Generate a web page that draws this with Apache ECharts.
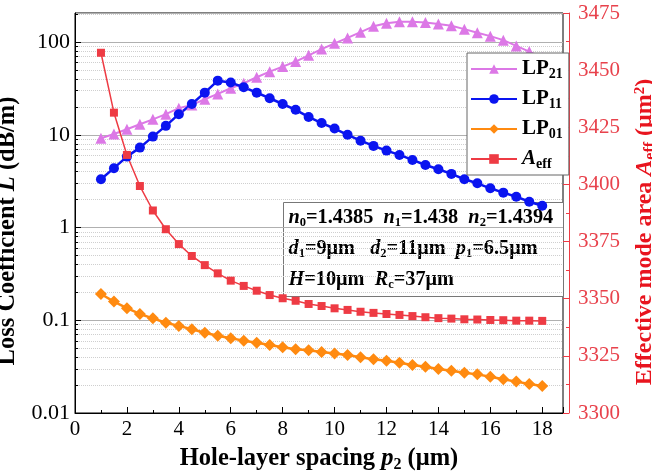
<!DOCTYPE html>
<html>
<head>
<meta charset="utf-8">
<script src="https://cdn.jsdelivr.net/npm/echarts@6/dist/echarts.min.js"></script>
<style>
  html, body { margin: 0; padding: 0; background: #fff; }
  #chart { width: 652px; height: 476px; }
</style>
</head>
<body>
<div id="chart"></div>
<script>
// Hole-layer spacing p2 (µm)
const spacing = [1, 1.5, 2, 2.5, 3, 3.5, 4, 4.5, 5, 5.5, 6, 6.5, 7, 7.5, 8, 8.5, 9, 9.5,
  10, 10.5, 11, 11.5, 12, 12.5, 13, 13.5, 14, 14.5, 15, 15.5, 16, 16.5, 17, 17.5, 18];

// Loss coefficient (dB/m) per mode
const lossLP21 = [9.2, 10.2, 11.5, 13.0, 14.7, 16.7, 19.4, 21.0, 24.2, 27.6, 31.8, 36.0,
  41.8, 48.0, 54.4, 61.7, 72, 84, 97, 111, 128, 148, 160, 166, 166, 163, 157, 150,
  138, 126, 116, 105, 91, 79, 68];
const lossLP11 = [3.32, 4.37, 5.82, 7.28, 9.57, 12.5, 16.7, 21.5, 28.5, 38.4, 36.6, 32.6,
  28.5, 24.8, 21.5, 18.6, 15.6, 13.4, 11.7, 10.0, 8.65, 7.6, 6.76, 6.07, 5.36, 4.73,
  4.25, 3.79, 3.32, 3.0, 2.65, 2.38, 2.15, 1.90, 1.72];
const lossLP01 = [0.192, 0.159, 0.135, 0.117, 0.105, 0.094, 0.087, 0.080, 0.0734, 0.0682,
  0.064, 0.0603, 0.0573, 0.0542, 0.0512, 0.0486, 0.0475, 0.0455, 0.0438, 0.0423, 0.0399,
  0.0379, 0.0366, 0.0349, 0.033, 0.0316, 0.0298, 0.0286, 0.0272, 0.0261, 0.0246, 0.0231,
  0.0218, 0.0206, 0.0196];

// Effective mode area of the fundamental mode (µm²)
const areaEff = [3457.6, 3431.4, 3412.9, 3399.3, 3388.6, 3380.4, 3373.9, 3368.7, 3364.7,
  3361.1, 3357.9, 3355.6, 3353.5, 3351.6, 3350.2, 3349.1, 3347.7, 3346.8, 3345.8, 3345.1,
  3344.3, 3343.8, 3343.3, 3342.9, 3342.4, 3341.9, 3341.5, 3341.3, 3341.0, 3340.9, 3340.7,
  3340.6, 3340.4, 3340.4, 3340.3];

const seriesNames = ['LP21', 'LP11', 'LP01', 'Aeff'];

// Minor log positions (2..9 per decade) for dotted grid lines and small ticks
const minorLog = [];
[0.01, 0.1, 1, 10, 100].forEach(function (d) {
  for (let k = 2; k <= 9; k++) {
    const v = +(d * k).toPrecision(3);
    if (v < 206) minorLog.push(v);
  }
});

const serif = '"Liberation Serif", "Times New Roman", serif';
const pairs = arr => spacing.map((x, i) => [x, arr[i]]);

const chart = echarts.init(document.getElementById('chart'), null, { renderer: 'canvas' });

const legendRich = {
  b: { fontFamily: serif, fontWeight: 'bold', fontSize: 21, color: '#000', lineHeight: 24 },
  s: { fontFamily: serif, fontWeight: 'bold', fontSize: 14, color: '#000', lineHeight: 24, padding: [10, 0, 0, 0] },
  i: { fontFamily: serif, fontWeight: 'bold', fontStyle: 'italic', fontSize: 21, color: '#000', lineHeight: 24 }
};

// Dotted minor grid lines plus short inward ticks on the log axis
const minorMarks = minorLog.map(v => ({ yAxis: v, lineStyle: { color: '#cfcfcf', type: 'dotted', width: 1 } }))
  .concat(minorLog.map(v => [
    { coord: [0, v], lineStyle: { color: '#000', type: 'solid', width: 1 } },
    { coord: [0.12, v] }
  ]));

const titleBlack = { fontFamily: serif, fontWeight: 'bold', fontSize: 24.5, color: '#000', lineHeight: 28 };
const titleRed = { fontFamily: serif, fontWeight: 'bold', fontSize: 24, color: '#e8141e', lineHeight: 28 };

const option = {
  backgroundColor: '#fff',
  animation: false,
  grid: {
    left: 75, top: 13, width: 488, height: 400,
    outerBoundsMode: 'none', containLabel: false,
    show: true, borderColor: '#000', borderWidth: 1, backgroundColor: '#fff'
  },
  legend: {
    data: seriesNames,
    orient: 'vertical',
    left: 467, top: 53,
    padding: [4, 6, 4, 3],
    itemWidth: 46, itemHeight: 12, itemGap: 6,
    backgroundColor: '#fff', borderColor: '#666', borderWidth: 1,
    formatter: function (name) {
      if (name === 'Aeff') return '{i|A}{s|eff}';
      return '{b|LP}{s|' + name.slice(2) + '}';
    },
    textStyle: { rich: legendRich }
  },
  xAxis: {
    type: 'value',
    min: 0, max: 18.8, interval: 2,
    name: '{b|Hole-layer spacing }{i|p}{s|2}{b| (μm)}',
    nameLocation: 'middle', nameGap: 21,
    nameTextStyle: {
      rich: {
        b: titleBlack,
        i: Object.assign({}, titleBlack, { fontStyle: 'italic' }),
        s: Object.assign({}, titleBlack, { fontSize: 16, padding: [12, 0, 0, 0] })
      }
    },
    axisLine: { onZero: false, lineStyle: { color: '#000', width: 1 } },
    axisTick: { inside: true, length: 6, lineStyle: { color: '#000' } },
    minorTick: { show: true, splitNumber: 2, length: 3, lineStyle: { color: '#000' } },
    axisLabel: { fontFamily: serif, fontSize: 21, color: '#000', margin: 6, showMaxLabel: false },
    splitLine: { show: false }
  },
  yAxis: [
    {
      type: 'log', logBase: 10,
      min: 0.01, max: 206,
      position: 'left',
      name: '{b|Loss Coefficient }{i|L}{b| (dB/m)}',
      nameLocation: 'middle', nameGap: 37, nameRotate: 90,
      nameTextStyle: {
        padding: [0, 36, 0, 0],
        rich: {
          b: titleBlack,
          i: Object.assign({}, titleBlack, { fontStyle: 'italic' })
        }
      },
      axisLine: { show: true, lineStyle: { color: '#000', width: 1 } },
      axisTick: { inside: true, length: 6, lineStyle: { color: '#000' } },
      axisLabel: { fontFamily: serif, fontSize: 22, color: '#000', margin: 5, showMaxLabel: false },
      splitLine: { show: true, lineStyle: { color: '#b0b0b0', width: 1 } }
    },
    {
      type: 'value',
      min: 3300, max: 3475, interval: 25,
      position: 'right', offset: 6,
      name: '{b|Effective mode area }{i|A}{s|eff}{b| (μm}{p|2}{b|)}',
      nameLocation: 'middle', nameGap: 52, nameRotate: 90,
      nameTextStyle: {
        padding: [0, 38, 0, 0],
        rich: {
          b: titleRed,
          i: Object.assign({}, titleRed, { fontStyle: 'italic' }),
          s: Object.assign({}, titleRed, { fontSize: 16, padding: [12, 0, 0, 0] }),
          p: Object.assign({}, titleRed, { fontSize: 15, padding: [0, 0, 10, 0] })
        }
      },
      axisLine: { show: true, lineStyle: { color: '#ee3b44', width: 1 } },
      axisTick: { inside: true, length: 6, lineStyle: { color: '#ee3b44' } },
      minorTick: { show: true, splitNumber: 2, length: 3, lineStyle: { color: '#ee3b44' } },
      axisLabel: { fontFamily: serif, fontSize: 21, color: '#e8424c', margin: 9, formatter: v => String(v) },
      splitLine: { show: false }
    }
  ],
  graphic: [
    { type: 'line', shape: { x1: 563, y1: 13.5, x2: 569, y2: 13.5 }, style: { stroke: '#ee3b44', lineWidth: 1 }, z: 10 },
    { type: 'line', shape: { x1: 563, y1: 413.5, x2: 569, y2: 413.5 }, style: { stroke: '#ee3b44', lineWidth: 1 }, z: 10 },
    {
      type: 'group', left: 283, top: 202, z: 100,
      children: [
        { type: 'rect', shape: { x: 0, y: 0, width: 280, height: 94 }, style: { fill: '#fff', stroke: '#777', lineWidth: 1 } },
        {
          type: 'text', x: 5, y: 0,
          style: {
            text: '{i|n}{s|0}{b|=1.4385  }{i|n}{s|1}{b|=1.438  }{i|n}{s|2}{b|=1.4394}\n' +
                  '{i|d}{s|1}{b|=9μm   }{i|d}{s|2}{b|=11μm  }{i|p}{s|1}{b|=6.5μm}\n' +
                  '{i|H}{b|=10μm  }{i|R}{s|c}{b|=37μm}',
            rich: {
              b: { fontFamily: serif, fontWeight: 'bold', fontSize: 20.3, fill: '#000', lineHeight: 31 },
              i: { fontFamily: serif, fontWeight: 'bold', fontStyle: 'italic', fontSize: 20.3, fill: '#000', lineHeight: 31 },
              s: { fontFamily: serif, fontWeight: 'bold', fontSize: 12.5, fill: '#000', lineHeight: 31, padding: [10, 0, 0, 0] }
            }
          }
        }
      ]
    }
  ],
  series: [
    {
      name: 'LP21', type: 'line', yAxisIndex: 0, data: pairs(lossLP21),
      symbol: 'triangle', symbolSize: 11, z: 3,
      itemStyle: { color: '#dc78e6' }, lineStyle: { color: '#dc78e6', width: 2 }
    },
    {
      name: 'LP11', type: 'line', yAxisIndex: 0, data: pairs(lossLP11),
      symbol: 'circle', symbolSize: 10, z: 3,
      itemStyle: { color: '#0a14f0' }, lineStyle: { color: '#0a14f0', width: 2.5 }
    },
    {
      name: 'LP01', type: 'line', yAxisIndex: 0, data: pairs(lossLP01),
      symbol: 'diamond', symbolSize: 12, z: 3,
      itemStyle: { color: '#ff8a10' }, lineStyle: { color: '#ff8a10', width: 2.5 },
      markLine: {
        silent: true, symbol: 'none', label: { show: false }, animation: false, z: 1,
        data: minorMarks
      }
    },
    {
      name: 'Aeff', type: 'line', yAxisIndex: 1, data: pairs(areaEff),
      symbol: 'rect', symbolSize: 8, z: 3,
      itemStyle: { color: '#ee3b44' }, lineStyle: { color: '#ee3b44', width: 1.5 }
    }
  ]
};

chart.setOption(option);
</script>
</body>
</html>
